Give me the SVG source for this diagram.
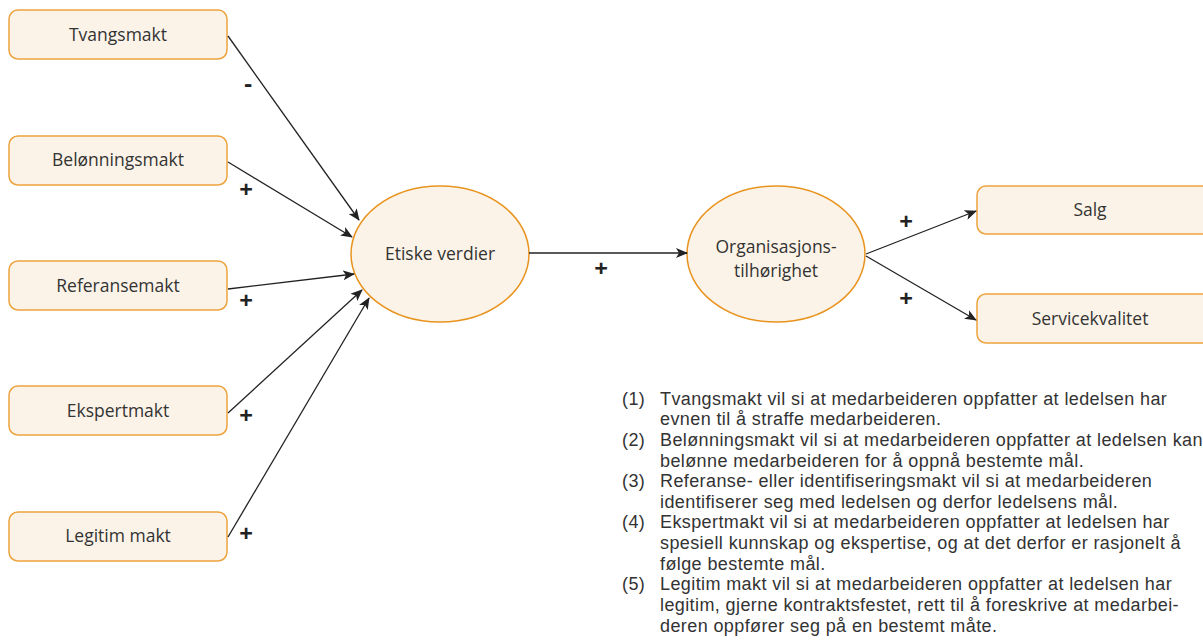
<svg xmlns="http://www.w3.org/2000/svg" width="1203" height="640" viewBox="0 0 1203 640">
<defs>
<marker id="ah" viewBox="0 0 12 10" refX="11" refY="5" markerWidth="12" markerHeight="10" markerUnits="userSpaceOnUse" orient="auto">
<path d="M0,0 L12,5 L0,10 L3,5 Z" fill="#222"/>
</marker>
<style>
.box{fill:#FCF3E8;stroke:#EDA33E;stroke-width:1.5}
.ell{fill:#FCF3E8;stroke:#E8931E;stroke-width:1.5}
.lbl{font-family:"Open Sans","Liberation Sans",sans-serif;font-size:17.5px;fill:#333;text-anchor:middle}
.sign{font-family:"Open Sans","Liberation Sans",sans-serif;font-size:24px;font-weight:bold;fill:#222;text-anchor:middle}
.note{font-family:"Liberation Sans",Arial,sans-serif;font-size:18px;letter-spacing:0.4px;fill:#333}
.con{stroke:#222;stroke-width:1.3;fill:none;marker-end:url(#ah)}
</style>
</defs>
<rect width="1203" height="640" fill="#fff"/>
<g id="tvangsmakt"><rect class="box" x="9" y="10" width="218" height="49" rx="9"/><text class="lbl" x="118" y="41">Tvangsmakt</text></g>
<g id="belonningsmakt"><rect class="box" x="9" y="136" width="218" height="49" rx="9"/><text class="lbl" x="118" y="166">Belønningsmakt</text></g>
<g id="referansemakt"><rect class="box" x="9" y="261" width="218" height="49" rx="9"/><text class="lbl" x="118" y="292">Referansemakt</text></g>
<g id="ekspertmakt"><rect class="box" x="9" y="386" width="218" height="49" rx="9"/><text class="lbl" x="118" y="417">Ekspertmakt</text></g>
<g id="legitimmakt"><rect class="box" x="9" y="512" width="218" height="49" rx="9"/><text class="lbl" x="118" y="542">Legitim makt</text></g>
<g id="etiske"><ellipse class="ell" cx="440" cy="254" rx="89" ry="68"/><text class="lbl" x="440" y="260">Etiske verdier</text></g>
<g id="org"><ellipse class="ell" cx="776" cy="254" rx="89" ry="68"/><text class="lbl" x="776" y="253"><tspan x="776" y="253">Organisasjons-</tspan><tspan x="776" y="277">tilhørighet</tspan></text></g>
<g id="salg"><rect class="box" x="977" y="186" width="235" height="48" rx="9"/><text class="lbl" x="1090" y="216">Salg</text></g>
<g id="service"><rect class="box" x="977" y="294" width="235" height="49" rx="9"/><text class="lbl" x="1090" y="325">Servicekvalitet</text></g>
<g id="connectors">
<line class="con" x1="228" y1="36" x2="359" y2="220"/>
<line class="con" x1="228" y1="162" x2="352" y2="237"/>
<line class="con" x1="228" y1="289" x2="354" y2="274"/>
<line class="con" x1="228" y1="413" x2="362" y2="290"/>
<line class="con" x1="228" y1="537" x2="369" y2="298"/>
<line class="con" x1="529" y1="253" x2="687" y2="253"/>
<line class="con" x1="866" y1="254" x2="976" y2="211"/>
<line class="con" x1="866" y1="256" x2="976" y2="320"/>
</g>
<g id="signs">
<text class="sign" x="248" y="92">-</text>
<text class="sign" x="246" y="198">+</text>
<text class="sign" x="246" y="309">+</text>
<text class="sign" x="246" y="424">+</text>
<text class="sign" x="246" y="542">+</text>
<text class="sign" x="601" y="277">+</text>
<text class="sign" x="906" y="230">+</text>
<text class="sign" x="906" y="307">+</text>
</g>
<g id="notes">
<text class="note" x="622" y="405">(1)</text><text class="note" x="660" y="405">Tvangsmakt vil si at medarbeideren oppfatter at ledelsen har</text>
<text class="note" x="660" y="425">evnen til å straffe medarbeideren.</text>
<text class="note" x="622" y="446">(2)</text><text class="note" x="660" y="446">Belønningsmakt vil si at medarbeideren oppfatter at ledelsen kan</text>
<text class="note" x="660" y="467">belønne medarbeideren for å oppnå bestemte mål.</text>
<text class="note" x="622" y="487">(3)</text><text class="note" x="660" y="487">Referanse- eller identifiseringsmakt vil si at medarbeideren</text>
<text class="note" x="660" y="508">identifiserer seg med ledelsen og derfor ledelsens mål.</text>
<text class="note" x="622" y="528">(4)</text><text class="note" x="660" y="528">Ekspertmakt vil si at medarbeideren oppfatter at ledelsen har</text>
<text class="note" x="660" y="549">spesiell kunnskap og ekspertise, og at det derfor er rasjonelt å</text>
<text class="note" x="660" y="570">følge bestemte mål.</text>
<text class="note" x="622" y="590">(5)</text><text class="note" x="660" y="590">Legitim makt vil si at medarbeideren oppfatter at ledelsen har</text>
<text class="note" x="660" y="611">legitim, gjerne kontraktsfestet, rett til å foreskrive at medarbei-</text>
<text class="note" x="660" y="632">deren oppfører seg på en bestemt måte.</text>
</g>
</svg>
